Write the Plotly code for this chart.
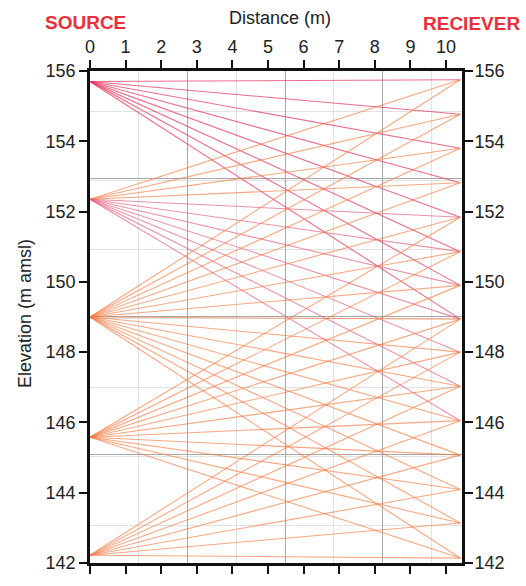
import plotly.graph_objects as go

# --- data ---
source_x = 0.0
receiver_x = 10.4
source_elev = [155.70, 152.35, 149.00, 145.58, 142.22]
receiver_elev = [155.75, 154.77, 153.80, 152.82, 151.84, 150.86, 149.90, 148.94,
                 148.00, 147.03, 146.05, 145.07, 144.09, 143.14, 142.14]
max_offset = 7.0  # rays recorded only within this vertical offset (m)
x_ticks = list(range(0, 11))
y_ticks = list(range(142, 157, 2))
grid_x_major, grid_x_minor = 2.74, 1.37
grid_y0, grid_y_major, grid_y_minor = 145.10, 3.92, 1.96

FONT = "Arial, Liberation Sans, sans-serif"
W, H = 526, 586
ML, MR, MT, MB = 90, 64, 71, 15

fig = go.Figure()

for si, zs in enumerate(source_elev):
    for zr in receiver_elev:
        if abs(zr - zs) > max_offset:
            continue
        if si == 0:
            col = "rgba(228,52,92,0.72)"
        elif zr < zs - 0.5 and si == 1:
            col = "rgba(226,96,124,0.68)"
        else:
            col = "rgba(244,122,66,0.66)"
        fig.add_trace(go.Scatter(
            x=[source_x, receiver_x], y=[zs, zr], mode="lines",
            line=dict(color=col, width=1.1), showlegend=False, hoverinfo="skip"))

# invisible traces to bind secondary axes
fig.add_trace(go.Scatter(x=[source_x], y=[source_elev[0]], xaxis="x2", yaxis="y2",
                         mode="markers", marker=dict(opacity=0), showlegend=False,
                         hoverinfo="skip"))
fig.add_trace(go.Scatter(x=[source_x], y=[source_elev[0]], xaxis="x", yaxis="y3",
                         mode="markers", marker=dict(opacity=0), showlegend=False,
                         hoverinfo="skip"))

xr = [0, 10.45]
yr = [142, 156]
tickfont = dict(family=FONT, size=18, color="#222")

fig.update_layout(
    width=W, height=H,
    margin=dict(l=ML, r=MR, t=MT, b=MB),
    paper_bgcolor="white", plot_bgcolor="white",
    xaxis=dict(range=xr, side="top", tickvals=x_ticks, ticks="outside", ticklen=8,
               tickwidth=2, tickcolor="#111", showline=True, linecolor="#111",
               linewidth=2.5, mirror="ticks", showgrid=False, zeroline=False,
               tickfont=tickfont),
    yaxis=dict(range=yr, tickvals=y_ticks, ticks="outside", ticklen=8, tickwidth=2,
               tickcolor="#111", showline=True, linecolor="#111", linewidth=2.5,
               mirror="ticks", showgrid=False, zeroline=False, tickfont=tickfont),
    xaxis2=dict(range=xr, overlaying="x", showticklabels=False, ticks="",
                tick0=0, dtick=grid_x_major, showgrid=True, gridcolor="#a9a9a9",
                gridwidth=1, zeroline=False, showline=False,
                minor=dict(dtick=grid_x_minor, showgrid=True, gridcolor="#e2e2e2",
                           gridwidth=1)),
    yaxis2=dict(range=yr, overlaying="y", showticklabels=False, ticks="",
                tick0=grid_y0, dtick=grid_y_major, showgrid=True, gridcolor="#a9a9a9",
                gridwidth=1, zeroline=False, showline=False,
                minor=dict(dtick=grid_y_minor, showgrid=True, gridcolor="#e2e2e2",
                           gridwidth=1)),
    yaxis3=dict(range=yr, overlaying="y", side="right", tickvals=y_ticks,
                ticks="outside", ticklen=8, tickwidth=2, tickcolor="#111",
                showgrid=False, zeroline=False, showline=False, tickfont=tickfont),
)

pw, ph = W - ML - MR, H - MT - MB


def px(xp, yp):
    """pixel position -> paper coordinates"""
    return (xp - ML) / pw, (H - yp - MB) / ph


ann = [
    ("<b>SOURCE</b>", 43, 22, "left", 0, 19, "#e8303a"),
    ("<b>RECIEVER</b>", 421, 23, "left", 0, 19, "#e8303a"),
    ("Distance (m)", 280, 17, "center", 0, 18, "#222"),
    ("Elevation (m amsl)", 25, 318, "center", -90, 18, "#222"),
]
for text, xp, yp, xa, ang, size, colr in ann:
    ax, ay = px(xp, yp)
    fig.add_annotation(text=text, x=ax, y=ay, xref="paper", yref="paper",
                       showarrow=False, xanchor=xa, yanchor="middle", textangle=ang,
                       font=dict(family=FONT, size=size, color=colr))

fig.write_html("out.html")
